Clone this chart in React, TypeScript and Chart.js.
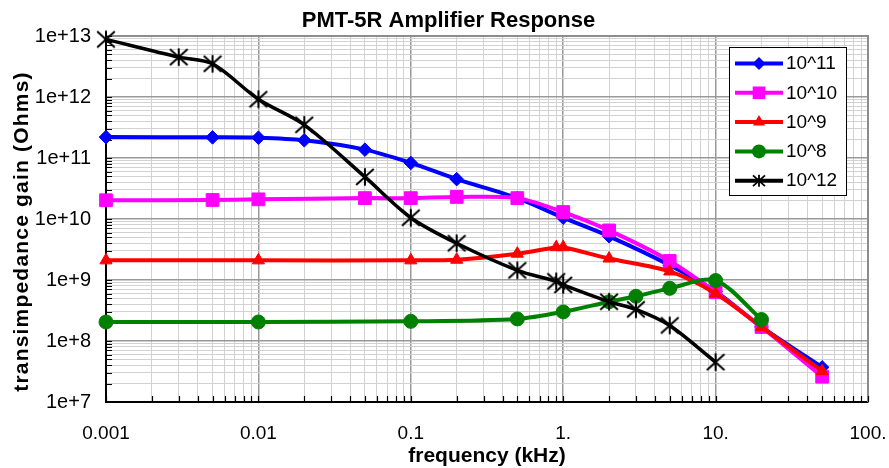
import React, { useEffect, useRef } from 'react';
import { Chart, registerables } from 'chart.js';

Chart.register(...registerables);

const FONT = "'Liberation Sans', Arial, Helvetica, sans-serif";

const titleText = 'PMT-5R Amplifier Response';
const xTitle = 'frequency (kHz)';
const yTitle = 'transimpedance gain (Ohms)';

const xTickLabels = ['0.001', '0.01', '0.1', '1.', '10.', '100.'];
const yTickLabels = ['1e+7', '1e+8', '1e+9', '1e+10', '1e+11', '1e+12', '1e+13'];

const seriesNames = ['10^11', '10^10', '10^9', '10^8', '10^12'];
const seriesColors = ['#0000ff', '#ff00ff', '#ff0000', '#008000', '#000000'];

const x11 = [0.001, 0.005, 0.01, 0.02, 0.05, 0.1, 0.2, 0.5, 1, 2, 5, 10, 20, 50];
const y11 = [2.2e11, 2.18e11, 2.15e11, 1.95e11, 1.37e11, 8.3e10, 4.5e10, 2.2e10, 1.05e10, 5.2e9, 1.75e9, 6.5e8, 1.7e8, 3.7e7];

const x10 = [0.001, 0.005, 0.01, 0.05, 0.1, 0.2, 0.5, 1, 2, 5, 10, 20, 50];
const y10 = [2.03e10, 2.05e10, 2.1e10, 2.2e10, 2.2e10, 2.3e10, 2.2e10, 1.3e10, 6.5e9, 2.05e9, 6.3e8, 1.7e8, 2.6e7];

const x9 = [0.001, 0.01, 0.1, 0.2, 0.5, 0.9, 1, 2, 5, 10, 20, 50];
const y9 = [2.1e9, 2.1e9, 2.1e9, 2.15e9, 2.7e9, 3.45e9, 3.45e9, 2.25e9, 1.38e9, 6.0e8, 1.7e8, 3.2e7];

const x8 = [0.001, 0.01, 0.1, 0.5, 1, 2, 3, 5, 10, 20];
const y8 = [2.05e8, 2.05e8, 2.1e8, 2.3e8, 3.0e8, 4.4e8, 5.4e8, 7.3e8, 9.8e8, 2.25e8];

const x12 = [0.001, 0.003, 0.005, 0.01, 0.02, 0.05, 0.1, 0.2, 0.5, 0.9, 1, 2, 3, 5, 10];
const y12 = [8.8e12, 4.5e12, 3.5e12, 9.2e11, 3.5e11, 4.9e10, 1.05e10, 4.0e9, 1.44e9, 9.5e8, 8.3e8, 4.4e8, 3.3e8, 1.8e8, 4.5e7];

function logTicks(minExp: number, maxExp: number): number[] {
  const out: number[] = [];
  for (let e = minExp; e < maxExp; e++) {
    for (let k = 1; k <= 9; k++) out.push(parseFloat((k * Math.pow(10, e)).toPrecision(6)));
  }
  out.push(Math.pow(10, maxExp));
  return out;
}
const xTicks = logTicks(-3, 2);
const yTicks = logTicks(7, 13);

const isMajor = (v: number) => Math.abs(Math.log10(v) - Math.round(Math.log10(v))) < 1e-6;

function makeStar(size: number, lw: number): HTMLCanvasElement {
  const c = document.createElement('canvas');
  c.width = size;
  c.height = size;
  const g = c.getContext('2d')!;
  const m = size / 2;
  const r = m - 1.2;
  g.strokeStyle = '#000';
  g.lineWidth = lw;
  g.beginPath();
  g.moveTo(m - r, m - r * 0.9);
  g.lineTo(m + r, m + r * 0.9);
  g.moveTo(m + r, m - r * 0.9);
  g.lineTo(m - r, m + r * 0.9);
  g.moveTo(m, m - r);
  g.lineTo(m, m + r);
  g.stroke();
  return c;
}

function drawMarker(ctx: CanvasRenderingContext2D, idx: number, x: number, y: number) {
  const col = seriesColors[idx];
  ctx.save();
  ctx.fillStyle = col;
  ctx.strokeStyle = col;
  ctx.beginPath();
  if (idx === 0) {
    const r = 6.5;
    ctx.moveTo(x, y - r);
    ctx.lineTo(x + r, y);
    ctx.lineTo(x, y + r);
    ctx.lineTo(x - r, y);
    ctx.closePath();
    ctx.fill();
  } else if (idx === 1) {
    ctx.rect(x - 6.3, y - 6.3, 12.6, 12.6);
    ctx.fill();
  } else if (idx === 2) {
    const r = 7;
    ctx.moveTo(x, y - r);
    ctx.lineTo(x + r * 0.866, y + r / 2);
    ctx.lineTo(x - r * 0.866, y + r / 2);
    ctx.closePath();
    ctx.fill();
  } else if (idx === 3) {
    ctx.arc(x, y, 7, 0, Math.PI * 2);
    ctx.fill();
  } else {
    ctx.lineWidth = 1.8;
    const r = 6;
    ctx.moveTo(x - r, y - r * 0.9);
    ctx.lineTo(x + r, y + r * 0.9);
    ctx.moveTo(x + r, y - r * 0.9);
    ctx.lineTo(x - r, y + r * 0.9);
    ctx.moveTo(x, y - r);
    ctx.lineTo(x, y + r);
    ctx.stroke();
  }
  ctx.restore();
}

const decorPlugin = {
  id: 'decor',
  beforeDatasetsDraw(chart: any) {
    const { ctx, chartArea: a, scales } = chart;
    ctx.save();
    ctx.strokeStyle = '#8c8c8c';
    ctx.lineWidth = 2;
    ctx.beginPath();
    ctx.moveTo(a.left, a.top);
    ctx.lineTo(a.right, a.top);
    ctx.lineTo(a.right, a.bottom);
    ctx.stroke();
    ctx.strokeStyle = '#000';
    ctx.lineWidth = 1.2;
    ctx.beginPath();
    for (const v of xTicks) {
      const px = Math.round(scales.x.getPixelForValue(v)) + 0.5;
      ctx.moveTo(px, a.bottom);
      ctx.lineTo(px, a.bottom - 6);
    }
    for (const v of yTicks) {
      const py = Math.round(scales.y.getPixelForValue(v)) + 0.5;
      ctx.moveTo(a.left, py);
      ctx.lineTo(a.left + 6, py);
    }
    ctx.stroke();
    ctx.restore();
  },
  afterDraw(chart: any) {
    const { ctx } = chart;
    // chart title
    ctx.save();
    ctx.font = `bold 22px ${FONT}`;
    ctx.fillStyle = '#000';
    ctx.textAlign = 'center';
    ctx.textBaseline = 'middle';
    ctx.fillText(titleText, 448.5, 20.5);
    ctx.restore();

    // y axis title
    ctx.save();
    ctx.translate(22.5, 231.5);
    ctx.rotate(-Math.PI / 2);
    ctx.font = `bold 21px ${FONT}`;
    (ctx as any).letterSpacing = '1.2px';
    ctx.fillStyle = '#000';
    ctx.textAlign = 'center';
    ctx.textBaseline = 'middle';
    ctx.fillText(yTitle, 0, 0);
    ctx.restore();

    // legend
    ctx.save();
    const lx = 729.5, ly = 47.5, lw = 117, lh = 148;
    ctx.fillStyle = '#fff';
    ctx.fillRect(lx, ly, lw, lh);
    ctx.strokeStyle = '#000';
    ctx.lineWidth = 1;
    ctx.strokeRect(lx, ly, lw, lh);
    ctx.font = `19px ${FONT}`;
    ctx.textBaseline = 'middle';
    ctx.textAlign = 'left';
    for (let i = 0; i < seriesNames.length; i++) {
      const y = 63.5 + i * 29.3;
      ctx.strokeStyle = seriesColors[i];
      ctx.lineWidth = 4;
      ctx.beginPath();
      ctx.moveTo(735, y);
      ctx.lineTo(783, y);
      ctx.stroke();
      drawMarker(ctx, i, 759, y);
      ctx.fillStyle = '#000';
      ctx.fillText(seriesNames[i], 786, y + 0.5);
    }
    ctx.restore();
  },
};

export default function App() {
  const ref = useRef<HTMLCanvasElement | null>(null);

  useEffect(() => {
    if (!ref.current) return;
    const star = makeStar(20, 2);
    const mk = (xs: number[], ys: number[]) => xs.map((x, i) => ({ x, y: ys[i] }));
    const base = (i: number) => ({
      label: seriesNames[i],
      borderColor: seriesColors[i],
      backgroundColor: seriesColors[i],
      pointBackgroundColor: seriesColors[i],
      pointBorderColor: seriesColors[i],
      pointBorderWidth: 1,
      borderWidth: 4,
      tension: 0.3,
      clip: false as any,
      fill: false,
    });
    const gridColor = (c: any) => (c.tick && isMajor(c.tick.value) ? '#999999' : '#d2d2d2');
    const gridWidth = (c: any) => (c.tick && isMajor(c.tick.value) ? 1.5 : 1);
    const noTick = 'rgba(0,0,0,0)';

    const chart = new Chart(ref.current, {
      type: 'line',
      data: {
        datasets: [
          { ...base(0), data: mk(x11, y11), pointStyle: 'rectRot', pointRadius: 6.8, order: 4 },
          { ...base(1), data: mk(x10, y10), pointStyle: 'rect', pointRadius: 9, order: 3 },
          { ...base(2), data: mk(x9, y9), pointStyle: 'triangle', pointRadius: 7, order: 2 },
          { ...base(3), data: mk(x8, y8), pointStyle: 'circle', pointRadius: 7, order: 1 },
          { ...base(4), data: mk(x12, y12), pointStyle: star as any, pointRadius: 9, borderWidth: 3.5, order: 0 },
        ] as any,
      },
      options: {
        animation: false,
        responsive: true,
        maintainAspectRatio: false,
        devicePixelRatio: 1,
        layout: { padding: { left: 0, right: 21, top: 36, bottom: 0 } },
        plugins: {
          legend: { display: false },
          tooltip: { enabled: false },
          title: { display: false },
        },
        scales: {
          x: {
            type: 'logarithmic',
            min: 0.001,
            max: 100,
            afterBuildTicks: (s: any) => {
              s.ticks = xTicks.map((v) => ({ value: v }));
            },
            afterFit: (s: any) => {
              s.height = 66;
            },
            ticks: {
              autoSkip: false,
              maxRotation: 0,
              minRotation: 0,
              padding: 0,
              color: '#000',
              font: { family: FONT, size: 19 },
              callback: (value: any) => {
                const v = Number(value);
                if (!isMajor(v)) return '';
                return xTickLabels[Math.round(Math.log10(v)) + 3];
              },
            },
            grid: { drawTicks: true, tickLength: 20, tickColor: noTick, color: gridColor, lineWidth: gridWidth },
            border: { color: '#000', width: 2 },
            title: {
              display: true,
              text: xTitle,
              color: '#000',
              font: { family: FONT, size: 21, weight: 'bold', lineHeight: 1 },
              padding: { top: 0, bottom: 1 },
            },
          },
          y: {
            type: 'logarithmic',
            min: 1e7,
            max: 1e13,
            afterBuildTicks: (s: any) => {
              s.ticks = yTicks.map((v) => ({ value: v }));
            },
            afterFit: (s: any) => {
              s.width = 106;
            },
            ticks: {
              autoSkip: false,
              padding: 0,
              color: '#000',
              font: { family: FONT, size: 20 },
              callback: (value: any) => {
                const v = Number(value);
                if (!isMajor(v)) return '';
                return yTickLabels[Math.round(Math.log10(v)) - 7];
              },
            },
            grid: { drawTicks: true, tickLength: 15, tickColor: noTick, color: gridColor, lineWidth: gridWidth },
            border: { color: '#000', width: 2 },
            title: { display: false },
          },
        },
      } as any,
      plugins: [decorPlugin],
    });
    return () => chart.destroy();
  }, []);

  return (
    <div style={{ position: 'fixed', left: 0, top: 0, width: 889, height: 468, background: '#fff' }}>
      <canvas ref={ref} />
    </div>
  );
}
